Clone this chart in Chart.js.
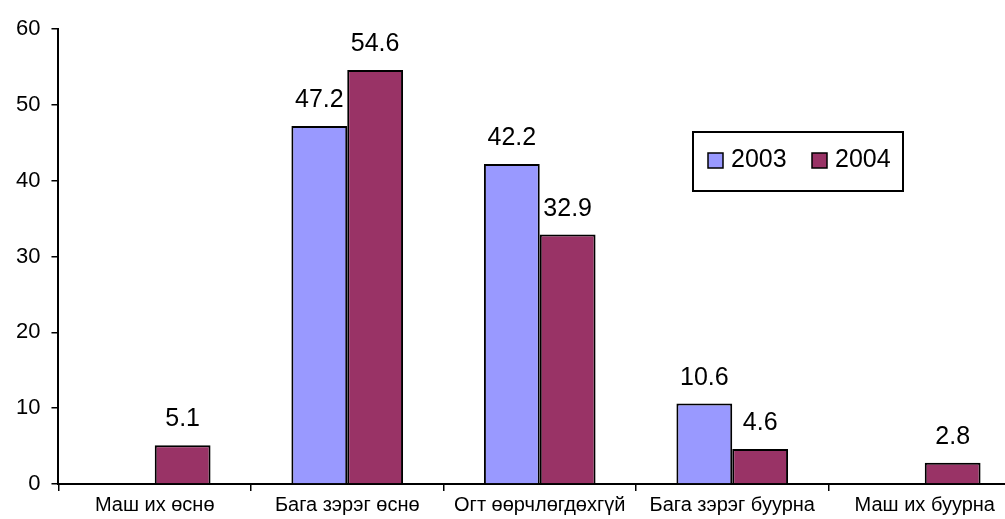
<!DOCTYPE html>
<html>
<head>
<meta charset="utf-8">
<script src="https://cdn.jsdelivr.net/npm/chart.js@4"></script>
<style>
  html, body { margin: 0; padding: 0; background: #fff; overflow: hidden; }
  #wrap { width: 1030px; height: 519px; }
</style>
</head>
<body>
<div id="wrap"><canvas id="chart"></canvas></div>
<script>
const categories = ['Маш их өснө', 'Бага зэрэг өснө', 'Огт өөрчлөгдөхгүй', 'Бага зэрэг буурна', 'Маш их буурна'];
const values2003 = [null, 47.2, 42.2, 10.6, null];
const values2004 = [5.1, 54.6, 32.9, 4.6, 2.8];
const seriesNames = ['2003', '2004'];
const yTicks = [0, 10, 20, 30, 40, 50, 60];

const FONT = 'Liberation Sans, Arial, sans-serif';

// value labels above bars
const valueLabels = {
  id: 'valueLabels',
  afterDatasetsDraw(chart) {
    const ctx = chart.ctx;
    ctx.save();
    ctx.font = '25px ' + FONT;
    ctx.fillStyle = '#000';
    ctx.textAlign = 'center';
    ctx.textBaseline = 'alphabetic';
    chart.data.datasets.forEach((ds, i) => {
      chart.getDatasetMeta(i).data.forEach((bar, j) => {
        if (ds.data[j] == null) return;
        ctx.fillText(ds.data[j].toFixed(1), bar.x, bar.y - 19);
      });
    });
    ctx.restore();
  }
};

// boxed legend inside the plot
const boxLegend = {
  id: 'boxLegend',
  afterDraw(chart) {
    const ctx = chart.ctx;
    const x = 693, y = 132, w = 210, h = 59;
    ctx.save();
    ctx.fillStyle = '#fff';
    ctx.fillRect(x, y, w, h);
    ctx.strokeStyle = '#000';
    ctx.lineWidth = 2;
    ctx.strokeRect(x, y, w, h);
    ctx.font = '25px ' + FONT;
    ctx.textBaseline = 'alphabetic';
    ctx.textAlign = 'left';
    const starts = [708, 812];
    chart.data.datasets.forEach((ds, i) => {
      const sx = starts[i];
      ctx.fillStyle = ds.backgroundColor;
      ctx.fillRect(sx, 153, 15, 15);
      ctx.lineWidth = 1.5;
      ctx.strokeRect(sx, 153, 15, 15);
      ctx.fillStyle = '#000';
      ctx.fillText(ds.label, sx + 23, 167);
    });
    ctx.restore();
  }
};

new Chart(document.getElementById('chart'), {
  type: 'bar',
  data: {
    labels: categories,
    datasets: [
      { label: seriesNames[0], data: values2003, backgroundColor: '#9999ff', borderColor: '#000', borderWidth: 2 },
      { label: seriesNames[1], data: values2004, backgroundColor: '#993366', borderColor: '#000', borderWidth: 2 }
    ]
  },
  options: {
    responsive: true,
    maintainAspectRatio: false,
    animation: false,
    categoryPercentage: 0.58,
    barPercentage: 1.0,
    layout: { padding: { top: 29, right: 9, left: 5, bottom: 0 } },
    plugins: { legend: { display: false }, tooltip: { enabled: false } },
    scales: {
      x: {
        grid: { display: true, drawOnChartArea: false, offset: true, color: '#000', lineWidth: 1.5, tickLength: 7 },
        border: { color: '#000', width: 2 },
        ticks: { color: '#000', font: { family: FONT, size: 20 }, padding: 2, maxRotation: 0, autoSkip: false }
      },
      y: {
        min: 0, max: 60,
        afterBuildTicks(scale) { scale.ticks = yTicks.map(v => ({ value: v })); },
        grid: { display: true, drawOnChartArea: false, color: '#000', lineWidth: 1.5, tickLength: 7 },
        border: { color: '#000', width: 2 },
        ticks: { color: '#000', font: { family: FONT, size: 22 }, padding: 11 }
      }
    }
  },
  plugins: [valueLabels, boxLegend]
});
</script>
</body>
</html>
